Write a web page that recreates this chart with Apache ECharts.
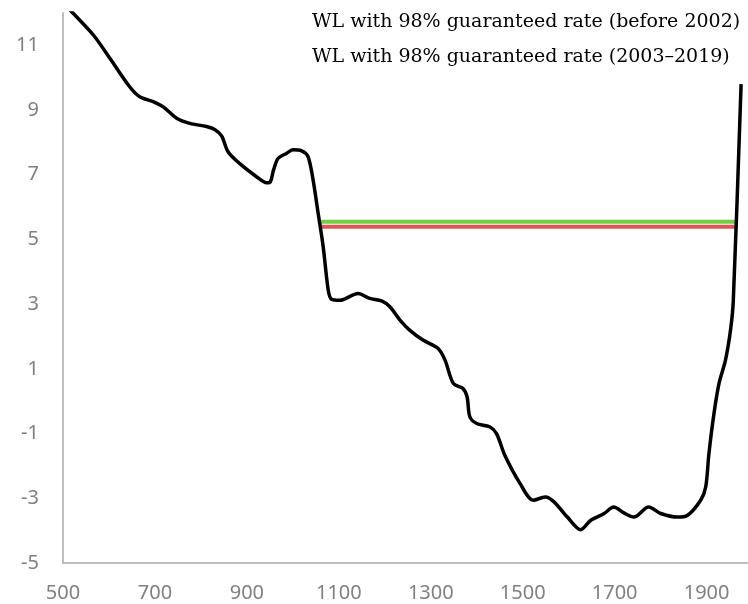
<!DOCTYPE html>
<html>
<head>
<meta charset="utf-8">
<script src="https://cdn.jsdelivr.net/npm/echarts@6/dist/echarts.min.js"></script>
<style>
  html, body { margin: 0; padding: 0; background: #fff; }
  #chart { width: 748px; height: 604px; }
</style>
</head>
<body>
<div id="chart"></div>
<script>
// river bed profile (distance vs elevation)
var profileX = [500, 515, 566, 602, 645, 667, 696, 718, 747, 776, 812, 830, 845, 859, 884, 921, 943, 951, 958, 968,
    986, 1000, 1019, 1033, 1044, 1055, 1066, 1077, 1084, 1102, 1142, 1167, 1193, 1211, 1233, 1254, 1283, 1316, 1331, 1349,
    1370, 1379, 1385, 1400, 1428, 1443, 1461, 1494, 1523, 1549, 1568, 1597, 1626, 1648, 1677, 1698, 1720, 1742, 1774, 1800,
    1836, 1858, 1887, 1898, 1905, 1916, 1927, 1941, 1952, 1958, 1975];
var profileY = [12.35, 12.1, 11.32, 10.6, 9.72, 9.41, 9.26, 9.10, 8.75, 8.59, 8.49, 8.40, 8.20, 7.71, 7.35, 6.94, 6.75, 6.78, 7.15, 7.51,
    7.66, 7.77, 7.74, 7.56, 6.84, 5.81, 4.77, 3.43, 3.15, 3.12, 3.33, 3.18, 3.10, 2.92, 2.51, 2.20, 1.89, 1.63, 1.27, 0.55,
    0.39, 0.13, -0.48, -0.69, -0.79, -1.0, -1.67, -2.54, -3.06, -2.96, -3.11, -3.58, -3.97, -3.68, -3.47, -3.27, -3.45, -3.58, -3.27, -3.47,
    -3.58, -3.53, -3.06, -2.65, -1.62, -0.38, 0.55, 1.27, 2.20, 3.10, 9.8];

// guaranteed water levels
var wlNames = ['WL with 98% guaranteed rate (before 2002)', 'WL with 98% guaranteed rate (2003\u20132019)'];
var wlX = [1058, 1963];
var wlBefore = [5.55, 5.55];
var wlAfter = [5.39, 5.39];

var chart = echarts.init(document.getElementById('chart'));

var pts = profileX.map(function (x, i) { return [x, profileY[i]]; });
var line1 = wlX.map(function (x, i) { return [x, wlBefore[i]]; });
var line2 = wlX.map(function (x, i) { return [x, wlAfter[i]]; });

var option = {
    animation: false,
    grid: {
        left: 63,
        right: 0,
        top: 13,
        bottom: 41,
        containLabel: false
    },
    legend: {
        orient: 'vertical',
        left: 301,
        top: 7,
        itemWidth: 0,
        itemHeight: 0,
        itemGap: 15,
        selectedMode: false,
        textStyle: {
            fontFamily: 'DejaVu Serif',
            fontSize: 19,
            lineHeight: 20,
            color: '#000'
        },
        data: wlNames
    },
    xAxis: {
        type: 'value',
        min: 500,
        max: 1990,
        interval: 200,
        axisLine: { show: true, onZero: false, lineStyle: { color: '#bfbfbf', width: 2 } },
        axisTick: { show: false },
        splitLine: { show: false },
        axisLabel: {
            showMaxLabel: false,
            margin: 20,
            color: '#808080',
            fontFamily: 'Noto Sans',
            fontSize: 20,
            formatter: function (v) { return String(v); }
        }
    },
    yAxis: {
        type: 'value',
        min: -5,
        max: 12,
        interval: 2,
        axisLine: { show: true, onZero: false, lineStyle: { color: '#bfbfbf', width: 2 } },
        axisTick: { show: false },
        splitLine: { show: false },
        axisLabel: {
            showMaxLabel: false,
            margin: 24,
            color: '#808080',
            fontFamily: 'Noto Sans',
            fontSize: 20
        }
    },
    series: [
        {
            name: wlNames[0],
            type: 'line',
            data: line1,
            symbol: 'none',
            lineStyle: { color: '#6fcf45', width: 4 },
            itemStyle: { color: '#6fcf45' }
        },
        {
            name: wlNames[1],
            type: 'line',
            data: line2,
            symbol: 'none',
            lineStyle: { color: '#e05555', width: 4 },
            itemStyle: { color: '#e05555' }
        },
        {
            name: 'profile',
            type: 'line',
            data: pts,
            symbol: 'none',
            smooth: 0.3,
            clip: true,
            lineStyle: { color: '#000', width: 3.5 },
            z: 3
        }
    ]
};
chart.setOption(option);
</script>
</body>
</html>
